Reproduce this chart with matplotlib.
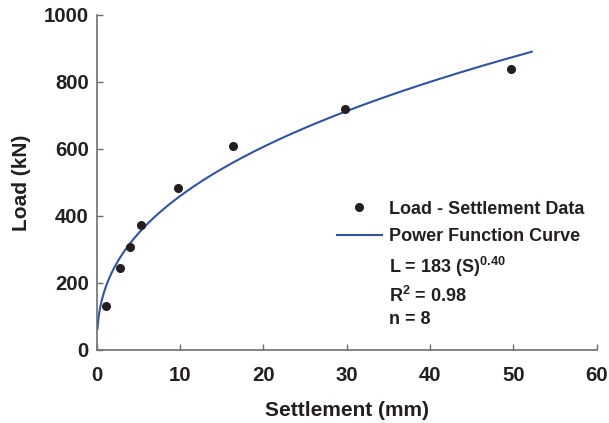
import numpy as np
import matplotlib
matplotlib.use("Agg")
import matplotlib.pyplot as plt

plt.rcParams['font.family'] = ['Liberation Sans', 'DejaVu Sans']
plt.rcParams['font.weight'] = 'bold'
plt.rcParams['mathtext.fontset'] = 'custom'
plt.rcParams['mathtext.rm'] = 'Liberation Sans:bold'
plt.rcParams['mathtext.bf'] = 'Liberation Sans:bold'
plt.rcParams['mathtext.it'] = 'Liberation Sans:bold'

# measured load-settlement pairs
settlement = [1.1, 2.8, 4.0, 5.3, 9.7, 16.4, 29.8, 49.7]
load = [132, 246, 306, 372, 484, 609, 720, 838]

# fitted power function L = a * S^b
coef_a = 183
coef_b = 0.40
r_squared = 0.98
s_fit = np.linspace(0.07, 52.2, 400)
l_fit = coef_a * s_fit ** coef_b

ink = '#231f20'
axis_grey = '#6d6e71'
blue = '#3153a4'

fig = plt.figure(figsize=(6.09, 4.23), dpi=100)
ax = fig.add_axes([0.159, 0.1726, 0.821, 0.792])

ax.plot(settlement, load, 'o', color=ink, ms=5.5, label='Load - Settlement Data',
        zorder=3)
ax.plot(s_fit, l_fit, '-', color=blue, lw=1.5, label='Power Function Curve')

ax.set_xlim(0, 60)
ax.set_ylim(0, 1000)
ax.set_xticks(range(0, 61, 10))
ax.set_yticks(range(0, 1001, 200))
ax.tick_params(direction='in', length=4, width=1, color=axis_grey,
               labelsize=14.7, labelcolor=ink)
ax.tick_params(axis='x', pad=11.5)
ax.tick_params(axis='y', pad=5.8)
for lab in ax.get_xticklabels() + ax.get_yticklabels():
    lab.set_fontweight('bold')
for side in ('top', 'right'):
    ax.spines[side].set_visible(False)
for side in ('left', 'bottom'):
    ax.spines[side].set_color(axis_grey)
    ax.spines[side].set_linewidth(1.2)

ax.set_xlabel('Settlement (mm)', fontsize=15, fontweight='bold', color=ink)
ax.set_ylabel('Load (kN)', fontsize=15, fontweight='bold', color=ink)
ax.xaxis.set_label_coords(0.5, -0.152)
ax.yaxis.set_label_coords(-0.132, 0.5)

leg = ax.legend(loc='upper left', bbox_to_anchor=(0.48, 0.446), frameon=False,
                borderpad=0, borderaxespad=0, handlelength=2.5,
                handletextpad=0.39, labelspacing=0.6,
                prop={'size': 13, 'weight': 'bold'})
for t in leg.get_texts():
    t.set_color(ink)

txt = dict(transform=ax.transAxes, fontsize=13, fontweight='bold', color=ink,
           ha='left', va='center')
ax.text(0.584, 0.248, r'L = %d (S)$^{%.2f}$' % (coef_a, coef_b), **txt)
ax.text(0.584, 0.160, r'R$^{2}$ = %.2f' % r_squared, **txt)
ax.text(0.584, 0.0925, 'n = %d' % len(load), **txt)

fig.savefig('out.png', dpi=100)
